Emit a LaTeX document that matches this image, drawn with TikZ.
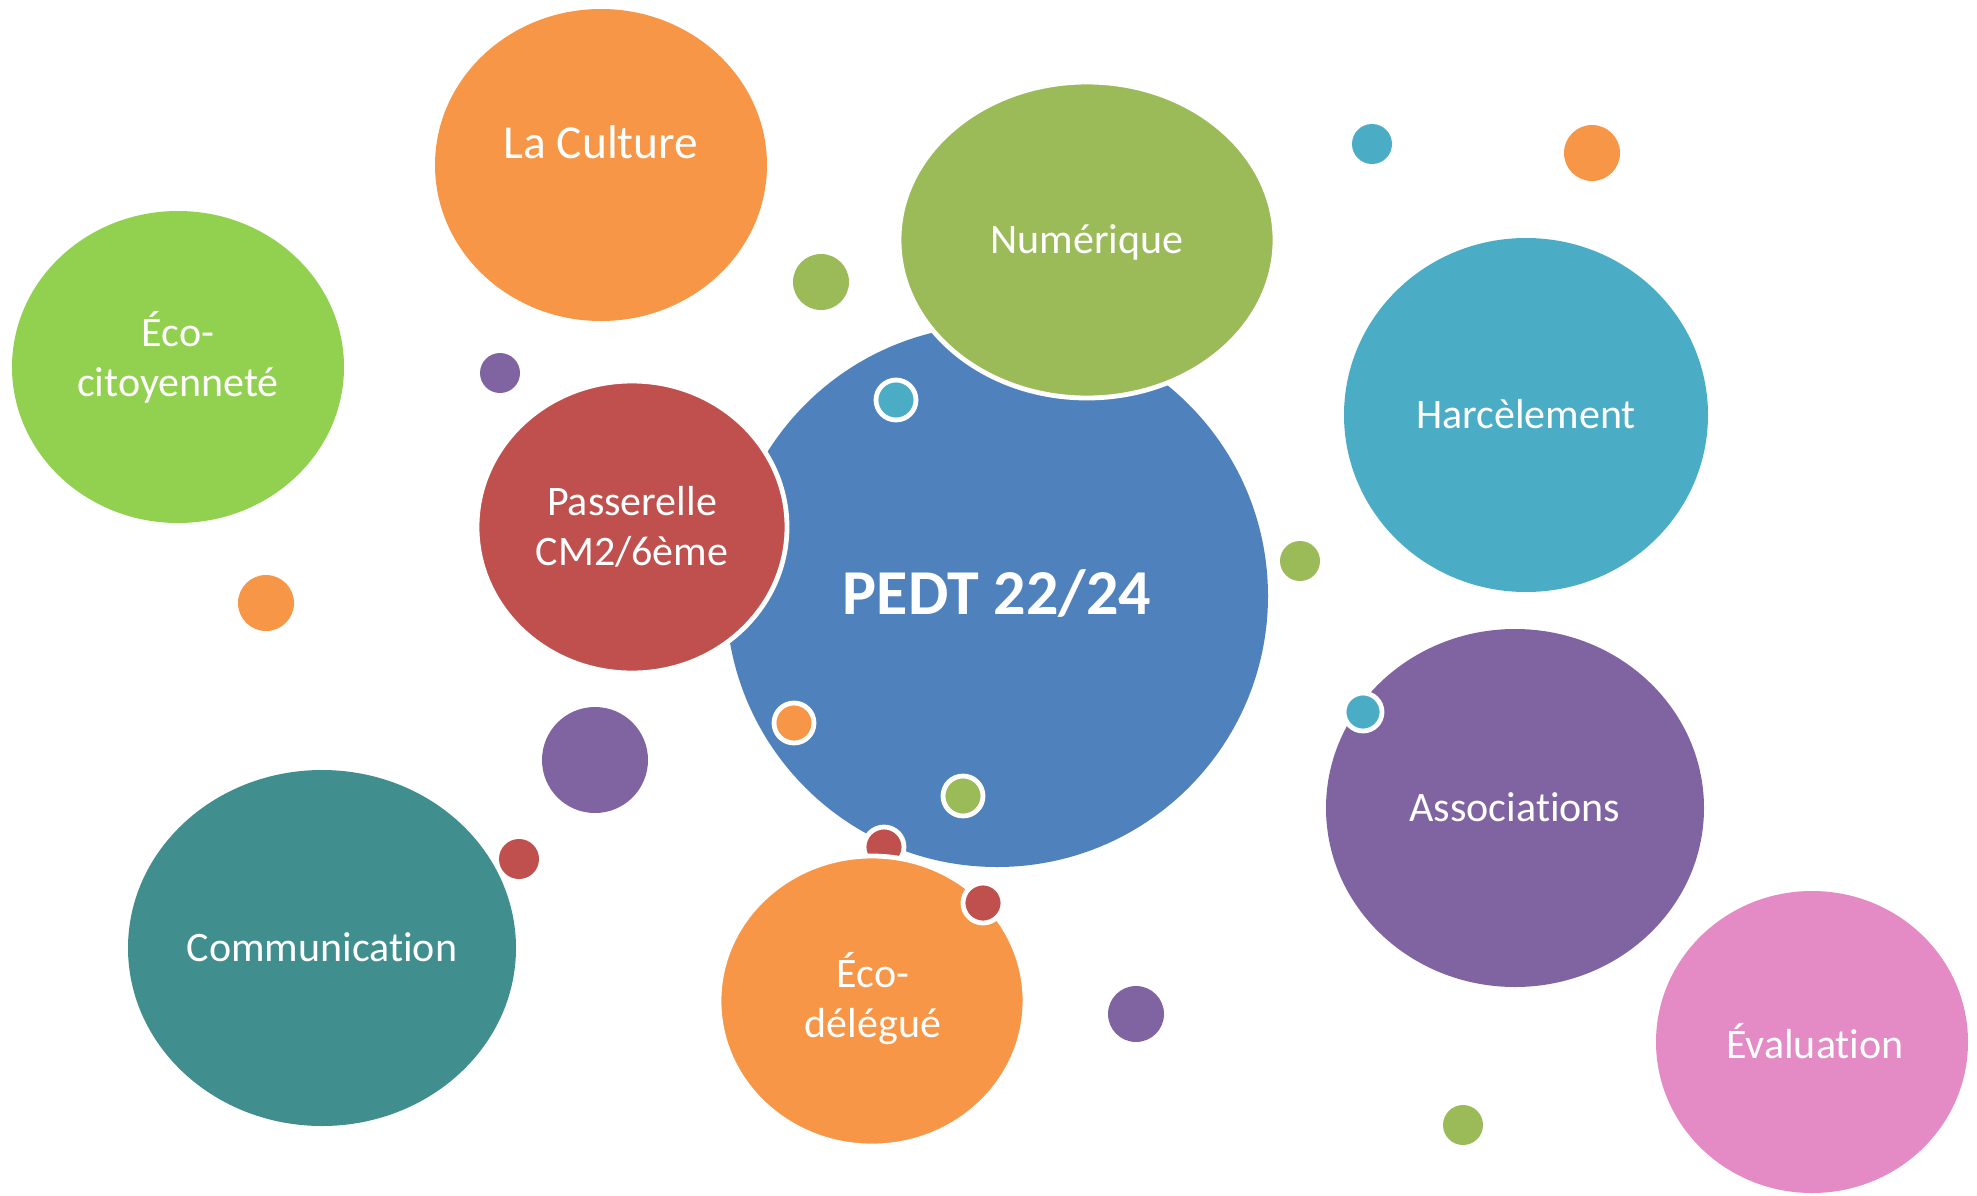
\documentclass[tikz,border=0pt]{standalone}
\usepackage{fontspec}
\setmainfont{Carlito}[Ligatures=NoCommon]
\definecolor{pedtblue}{RGB}{79,129,189}
\definecolor{numgreen}{RGB}{155,187,89}
\definecolor{ecogreen}{RGB}{146,208,80}
\definecolor{cultorange}{RGB}{247,150,70}
\definecolor{passred}{RGB}{192,80,77}
\definecolor{harcteal}{RGB}{75,172,198}
\definecolor{assopurple}{RGB}{128,100,162}
\definecolor{competrol}{RGB}{65,142,142}
\definecolor{evalpink}{RGB}{228,138,196}
\tikzset{every picture/.style={line width=0.75pt}}
\tikzset{
  bubble/.style={white,font=\fontsize{21}{25}\selectfont,align=center,inner sep=0.75pt},
  rim/.style={draw=white,line width=2.4pt}
}

\begin{document}
\begin{tikzpicture}[x=0.5pt,y=0.5pt,yscale=-1,xscale=1]
\path[use as bounding box] (0,0) rectangle (1977,1195);

%Small dots
\fill [harcteal] (1372,144) circle (20);
\fill [cultorange] (1592,153) circle (28);
\fill [numgreen] (821,282) circle (28);
\fill [assopurple] (500,373) circle (20);
\fill [cultorange] (266,603) circle (28);
\fill [numgreen] (1300,561) circle (20);
\fill [assopurple] (595,760) circle (53);
\fill [passred] (519,859) circle (20);
\fill [assopurple] (1136,1014) circle (28);
\fill [numgreen] (1463,1125) circle (20);

%Shape: Ellipse
\fill [cultorange] (601,165) ellipse (166 and 156);
%Shape: Ellipse
\fill [ecogreen] (178,367) ellipse (166 and 156);
%Shape: Ellipse
\fill [harcteal] (1526,415) ellipse (182 and 177);
%Shape: Ellipse
\fill [assopurple] (1515,808) ellipse (189 and 179);
%Shape: Ellipse
\fill [evalpink] (1812,1042) ellipse (156 and 151);
%Shape: Ellipse
\fill [competrol] (322,948) ellipse (194 and 178);

%Shape: Circle
\fill [pedtblue] (997,596) circle (271);
\draw [rim,fill=passred] (884,847) circle (20);

%Shape: Ellipse
\draw [rim,fill=numgreen] (1087,240) ellipse (188 and 158);
%Shape: Ellipse
\draw [rim,fill=passred] (632,527) ellipse (155 and 146);
%Shape: Ellipse
\draw [rim,fill=cultorange] (872,1001) ellipse (153 and 145);

%Outlined dots
\draw [rim,fill=harcteal] (896,400) circle (20);
\draw [rim,fill=cultorange] (794,723) circle (20);
\draw [rim,fill=numgreen] (963,796) circle (20);
\draw [rim,fill=passred] (983,903) circle (20);
\draw [rim,fill=harcteal] (1363,712) circle (19);

% Text Node
\node [bubble,font=\fontsize{32}{38}\selectfont\bfseries] (pedt) at (997,593) {PEDT 22/24};
% Text Node
\node [bubble,font=\fontsize{23.7}{28}\selectfont] (culture) at (601,142) {La Culture};
% Text Node
\node [bubble] (numerique) at (1087,242) {Numérique};
% Text Node
\node [bubble] (ecocit) at (178,357) {Éco-\\citoyenneté};
% Text Node
\node [bubble] (passerelle) at (632,527) {Passerelle\\CM2/6ème};
% Text Node
\node [bubble] (harcelement) at (1526,414) {Harcèlement};
% Text Node
\node [bubble] (associations) at (1515,807) {Associations};
% Text Node
\node [bubble] (evaluation) at (1815,1041) {Évaluation};
% Text Node
\node [bubble] (communication) at (322,947) {Communication};
% Text Node
\node [bubble] (ecodeleg) at (873,999) {Éco-\\délégué};

\end{tikzpicture}
\end{document}
